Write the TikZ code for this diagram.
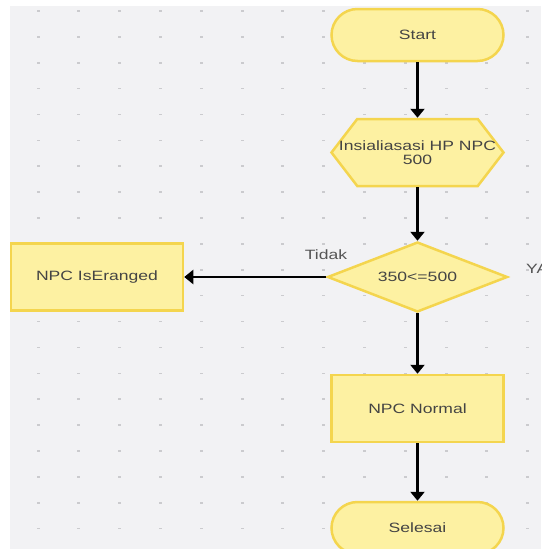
\documentclass[tikz,border=0pt]{standalone}
\usepackage{fontspec}
\setmainfont{Liberation Sans}
\newfontfamily\lblfont[FakeStretch=1.3]{Liberation Sans}
\usetikzlibrary{arrows.meta,shapes.geometric}
\definecolor{bg}{HTML}{F2F2F4}
\definecolor{dotc}{HTML}{CBCBCE}
\definecolor{fillY}{HTML}{FDF1A2}
\definecolor{lineY}{HTML}{F4D54E}
\definecolor{txt}{HTML}{444444}
\definecolor{lbltxt}{HTML}{555555}
\pgfdeclarelayer{layerA}
\pgfdeclarelayer{layerB}
\pgfsetlayers{layerA,layerB,main}
\begin{document}
\begin{tikzpicture}[x=1pt,y=-1pt,
  txtfont/.style={font=\lblfont\fontsize{13.5}{13.5}\selectfont},
  box/.style={draw=lineY, fill=fillY, line width=2.5pt, minimum width=172pt,
    minimum height=67pt, inner sep=0pt, txtfont, text=txt, align=center},
  term/.style={box, rounded corners=26pt, minimum height=52pt},
  hexa/.style={minimum width=172pt, minimum height=67pt, inner sep=0pt,
    outer sep=1.25pt, txtfont, text=txt, align=center},
  hexline/.style={draw=lineY, fill=fillY, line width=2.5pt, line join=miter},
  decision/.style={box, diamond, aspect=2.5, minimum width=180pt, minimum height=70pt},
  lbl/.style={txtfont, text=lbltxt, inner sep=0pt},
  conn/.style={line width=2.5pt, draw=black, -{Triangle[width=14pt,length=9pt]}},
]
\useasboundingbox (0,0) rectangle (541,549);
\clip (0,0) rectangle (541,549);
\begin{pgfonlayer}{layerA}
\fill[bg] (10,6) rectangle (541,549);
\foreach \i in {0,...,12}
  \foreach \j in {0,...,20}
    \fill[dotc] ({38+40.8*\i-1.5},{11+25.88*\j-0.8}) rectangle +(3,1.6);
\end{pgfonlayer}

\node[term] (start) at (417.5,35) {Start};
\node[hexa] (init) at (417.5,152.5) {Insialiasasi HP NPC\\500};
\begin{pgfonlayer}{layerB}
\draw[hexline] ([xshift=1.25pt]init.west) -- ([xshift=27pt,yshift=-1.25pt]init.north west)
  -- ([xshift=-27pt,yshift=-1.25pt]init.north east) -- ([xshift=-1.25pt]init.east)
  -- ([xshift=-27pt,yshift=1.25pt]init.south east) -- ([xshift=27pt,yshift=1.25pt]init.south west) -- cycle;
\end{pgfonlayer}
\node[decision] (dec) at (417.5,277) {350<=500};
\node[box] (iser) at (97,277) {NPC IsEranged};
\node[box] (normal) at (417.5,408.5) {NPC Normal};
\node[term] (end) at (417.5,528) {Selesai};

\node[lbl] (tidak) at (326,255) {Tidak};
\node[lbl, anchor=west] (ya) at (526,269) {YA};

\draw[conn] (start) -- (init);
\draw[conn] (init) -- (dec);
\draw[conn] (dec.west) -- (iser.east);
\draw[conn] (dec) -- (normal);
\draw[conn] (normal) -- (end);
\end{tikzpicture}
\end{document}
